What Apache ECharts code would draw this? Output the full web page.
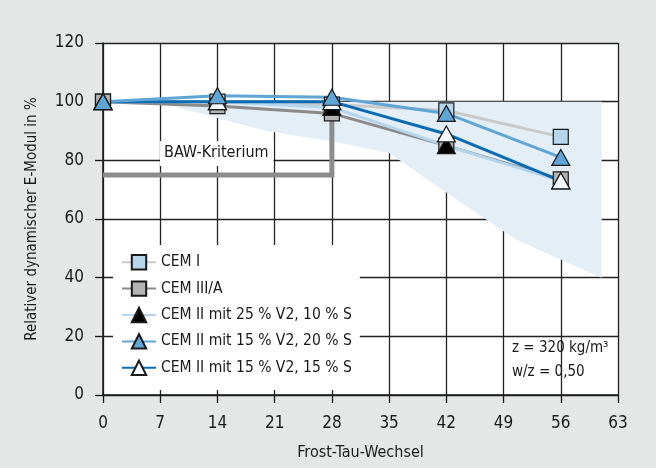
<!DOCTYPE html>
<html>
<head>
<meta charset="utf-8">
<script src="https://cdn.jsdelivr.net/npm/echarts@6/dist/echarts.min.js"></script>
<style>
  html, body { margin: 0; padding: 0; background: #e5e6e6; }
  #main { width: 656px; height: 468px; }
</style>
</head>
<body>
<div id="main"></div>
<script>
var FONT = '"Liberation Sans Narrow", "DejaVu Sans Condensed", "Liberation Sans", sans-serif';

// Frost-Tau-Wechsel
var cycles = [0, 14, 28, 42, 56];
// relativer E-Modul in %
var cemI = [100, 100, 99, 97, 88];
var cemIIIA = [100, 98.5, 96, 85, 73.5];
var cemII_25_10 = [100, 100, 98, 85, 73];
var cemII_15_20 = [100, 102, 101.5, 96, 81];
var cemII_15_15 = [100, 100, 100, 89, 73];

// BAW-Kriterium (Linie)
var bawX = [0, 28, 28];
var bawY = [75, 75, 96];

// hellblauer Streubereich
var bandX = [6.5, 20, 28, 35, 42, 50.5, 61, 61, 6.5];
var bandY = [100, 90, 86.5, 82.5, 69, 53, 40, 100, 100];

var names = [
  'CEM I',
  'CEM III/A',
  'CEM II mit 25 % V2, 10 % S',
  'CEM II mit 15 % V2, 20 % S',
  'CEM II mit 15 % V2, 15 % S'
];

function pairs(xs, ys) {
  return xs.map(function (x, i) { return [x, ys[i]]; });
}

function lineSeries(name, data, color, symbol, fill, size) {
  return {
    name: name,
    type: 'line',
    data: pairs(cycles, data),
    symbol: symbol,
    symbolSize: size,
    showAllSymbol: true,
    lineStyle: { color: color, width: 3 },
    itemStyle: { color: fill, borderColor: '#1a1a1a', borderWidth: 1.2 },
    emphasis: { disabled: true },
    z: 5
  };
}

var chart = echarts.init(document.getElementById('main'));

var option = {
  backgroundColor: '#e5e6e6',
  animation: false,
  grid: { left: 103, right: 38, top: 43, bottom: 73, show: true, backgroundColor: '#fff', borderWidth: 0 },
  xAxis: {
    type: 'value',
    min: 0,
    max: 63,
    interval: 7,
    name: 'Frost-Tau-Wechsel',
    nameLocation: 'middle',
    nameGap: 50,
    nameTextStyle: { fontFamily: FONT, fontSize: 16, color: '#1a1a1a' },
    axisLine: { show: true, lineStyle: { color: '#1a1a1a', width: 1.5 } },
    axisTick: { show: true, inside: false, length: 8, lineStyle: { color: '#1a1a1a', width: 1.3 } },
    axisLabel: { fontFamily: FONT, fontSize: 17, color: '#1a1a1a', margin: 20 },
    splitLine: { show: true, lineStyle: { color: '#222', width: 1.3 } }
  },
  yAxis: {
    type: 'value',
    min: 0,
    max: 120,
    interval: 20,
    name: 'Relativer dynamischer E-Modul in %',
    nameLocation: 'middle',
    nameGap: 63,
    nameTextStyle: { fontFamily: FONT, fontSize: 15, color: '#1a1a1a' },
    axisLine: { show: true, lineStyle: { color: '#1a1a1a', width: 1.5 } },
    axisTick: { show: true, inside: false, length: 8, lineStyle: { color: '#1a1a1a', width: 1.3 } },
    axisLabel: { fontFamily: FONT, fontSize: 17, color: '#1a1a1a', margin: 19 },
    splitLine: { show: true, lineStyle: { color: '#222', width: 1.3 } }
  },
  legend: {
    orient: 'vertical',
    left: 113,
    top: 245,
    backgroundColor: '#fff',
    padding: [9, 8, 14, 8],
    itemGap: 10,
    itemWidth: 34,
    itemHeight: 18,
    textStyle: { fontFamily: FONT, fontSize: 15.5, color: '#1a1a1a' },
    data: names
  },
  graphic: [
    {
      type: 'text',
      left: 160,
      top: 141,
      z: 50,
      style: {
        text: 'BAW-Kriterium',
        font: '16px ' + FONT,
        fill: '#1a1a1a',
        backgroundColor: '#fff',
        padding: [4, 5, 5, 4]
      }
    },
    {
      type: 'group',
      left: 505,
      top: 330,
      z: 50,
      children: [
        { type: 'rect', shape: { x: 0, y: 0, width: 112, height: 57 }, style: { fill: '#fff' } },
        {
          type: 'text',
          x: 7,
          y: 6,
          style: {
            text: 'z = 320 kg/m³\nw/z = 0,50',
            font: '15px ' + FONT,
            fill: '#1a1a1a',
            lineHeight: 24
          }
        }
      ]
    }
  ],
  series: [
    {
      type: 'custom',
      name: 'band',
      silent: true,
      z: 1,
      data: [0],
      renderItem: function (params, api) {
        var pts = bandX.map(function (x, i) { return api.coord([x, bandY[i]]); });
        return { type: 'polygon', shape: { points: pts }, style: { fill: '#e3eef7' } };
      }
    },
    {
      type: 'line',
      name: 'BAW',
      data: pairs(bawX, bawY),
      symbol: 'none',
      lineStyle: { color: '#8c8c8c', width: 5, cap: 'butt', join: 'miter' },
      z: 3
    },
    lineSeries(names[0], cemI, '#c9c9c9', 'rect', '#b6d6ec', 15),
    lineSeries(names[1], cemIIIA, '#8a8a8a', 'rect', '#b3b3b3', 15),
    lineSeries(names[2], cemII_25_10, '#b5d5ec', 'triangle', '#000', [18, 16]),
    lineSeries(names[4], cemII_15_15, '#0b6cb3', 'triangle', '#f4f9fd', [18, 16]),
    lineSeries(names[3], cemII_15_20, '#5fa5d6', 'triangle', '#5fa5d6', [18, 16])
  ]
};

chart.setOption(option);
</script>
</body>
</html>
